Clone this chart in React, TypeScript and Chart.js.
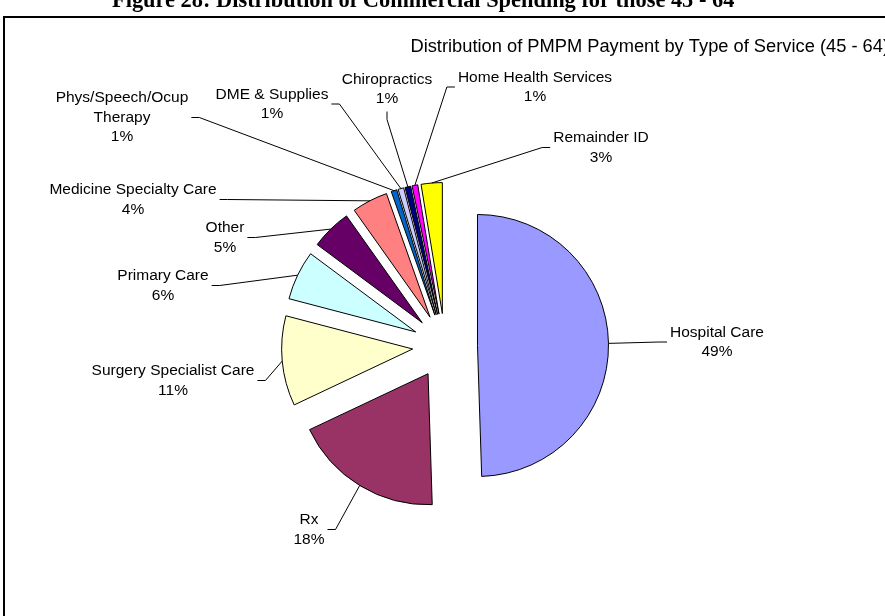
import React, { useEffect, useRef } from 'react';
import { Chart, registerables } from 'chart.js';

Chart.register(...registerables);

// ---- data ----
const categories = [
  'Hospital Care',
  'Rx',
  'Surgery Specialist Care',
  'Primary Care',
  'Other',
  'Medicine Specialty Care',
  'Phys/Speech/Ocup\nTherapy',
  'DME & Supplies',
  'Chiropractics',
  'Home Health Services',
  'Remainder ID',
];
const shares = [49.49, 18.49, 11.1, 6.1, 5.0, 4.42, 0.7, 0.7, 0.7, 0.7, 2.6];
const sliceColors = [
  '#9999FF', '#993366', '#FFFFCC', '#CCFFFF', '#660066', '#FF8080',
  '#0066CC', '#CCCCFF', '#000080', '#FF00FF', '#FFFF00',
];
const figureTitle = 'Figure 28: Distribution of Commercial Spending for those 45 - 64';
const chartTitle = 'Distribution of PMPM Payment by Type of Service (45 - 64)';

// ---- layout (label block centre relative to pie centre, and leader attach side) ----
const labelLayout: { dx: number; dy: number; side: 'left' | 'right' | 'bottom' }[] = [
  { dx: 272, dy: -4, side: 'left' },
  { dx: -136, dy: 183.5, side: 'right' },
  { dx: -272, dy: 34.5, side: 'right' },
  { dx: -282, dy: -60.5, side: 'right' },
  { dx: -220, dy: -108.5, side: 'right' },
  { dx: -312, dy: -146.5, side: 'right' },
  { dx: -323, dy: -228.5, side: 'right' },
  { dx: -173, dy: -242, side: 'right' },
  { dx: -58, dy: -257, side: 'bottom' },
  { dx: 90, dy: -259, side: 'left' },
  { dx: 156, dy: -198.5, side: 'left' },
];
const EXPLODE = 32.5;
const PIE_RADIUS = 131;
const LABEL_FONT = '15.5px "Liberation Sans", Arial, sans-serif';
const TITLE_FONT = '18.3px "Liberation Sans", Arial, sans-serif';
const FIG_FONT = 'bold 22.4px "Liberation Serif", "Times New Roman", serif';
const LINE_H = 19.5;

const explodePlugin = {
  id: 'explodePie',
  beforeDatasetDraw(chart: any, args: any) {
    const ctx = chart.ctx;
    args.meta.data.forEach((arc: any) => {
      const mid = (arc.startAngle + arc.endAngle) / 2;
      ctx.save();
      ctx.translate(Math.cos(mid) * EXPLODE, Math.sin(mid) * EXPLODE);
      arc.draw(ctx);
      ctx.restore();
    });
    return false;
  },
};

const decorPlugin = {
  id: 'decor',
  beforeDraw(chart: any) {
    const ctx = chart.ctx;
    ctx.save();
    ctx.fillStyle = '#fff';
    ctx.fillRect(0, 0, chart.width, chart.height);
    ctx.restore();
  },
  afterDraw(chart: any) {
    const ctx = chart.ctx;
    ctx.save();
    // outer frame
    ctx.strokeStyle = '#000';
    ctx.lineWidth = 2;
    ctx.strokeRect(4, 17, chart.width + 20, chart.height + 20);
    // figure title (clipped at the top)
    ctx.fillStyle = '#000';
    ctx.font = FIG_FONT;
    ctx.textAlign = 'left';
    ctx.textBaseline = 'alphabetic';
    ctx.fillText(figureTitle, 112, 7);
    // chart title
    ctx.font = TITLE_FONT;
    ctx.textAlign = 'right';
    ctx.textBaseline = 'middle';
    ctx.fillText(chartTitle, 889, 47);

    const meta = chart.getDatasetMeta(0);
    const total = shares.reduce((a, b) => a + b, 0);
    meta.data.forEach((arc: any, i: number) => {
      const lay = labelLayout[i];
      const cx = arc.x;
      const cy = arc.y;
      const mid = (arc.startAngle + arc.endAngle) / 2;
      const r = EXPLODE + arc.outerRadius;
      const px = cx + Math.cos(mid) * r;
      const py = cy + Math.sin(mid) * r;
      const lines = categories[i].split('\n');
      lines.push(Math.round((shares[i] / total) * 100) + '%');
      const lx = cx + lay.dx;
      const ly = cy + lay.dy;
      ctx.font = LABEL_FONT;
      const w = Math.max(...lines.map((s) => ctx.measureText(s).width));
      const h = lines.length * LINE_H;
      // leader line
      ctx.strokeStyle = '#000';
      ctx.lineWidth = 1;
      ctx.beginPath();
      if (lay.side === 'right') {
        const ex = lx + w / 2 + 3;
        ctx.moveTo(ex, ly);
        ctx.lineTo(ex + 8, ly);
      } else if (lay.side === 'left') {
        const ex = lx - w / 2 - 3;
        ctx.moveTo(ex, ly);
        ctx.lineTo(ex - 8, ly);
      } else {
        const ey = ly + h / 2 + 3;
        ctx.moveTo(lx, ey);
        ctx.lineTo(lx, ey + 8);
      }
      ctx.lineTo(px, py);
      ctx.stroke();
      // text
      ctx.fillStyle = '#000';
      ctx.textAlign = 'center';
      ctx.textBaseline = 'middle';
      lines.forEach((s, k) => {
        ctx.fillText(s, lx, ly + (k - (lines.length - 1) / 2) * LINE_H);
      });
    });
    ctx.restore();
  },
};

export default function App() {
  const ref = useRef<HTMLCanvasElement | null>(null);
  useEffect(() => {
    if (!ref.current) return;
    const chart = new Chart(ref.current, {
      type: 'pie',
      data: {
        labels: categories,
        datasets: [
          {
            data: shares,
            backgroundColor: sliceColors,
            borderColor: '#000',
            borderWidth: 1,
            borderJoinStyle: 'miter',
            radius: PIE_RADIUS,
          } as any,
        ],
      },
      options: {
        responsive: false,
        animation: false,
        devicePixelRatio: 1,
        layout: { padding: { left: 205, right: 200, top: 126, bottom: 50 } },
        plugins: {
          legend: { display: false },
          title: { display: false },
          tooltip: { enabled: false },
        },
        events: [],
      },
      plugins: [explodePlugin, decorPlugin],
    });
    return () => chart.destroy();
  }, []);
  return (
    <div style={{ position: 'absolute', left: 0, top: 0, width: 885, height: 616, overflow: 'hidden', background: '#fff' }}>
      <canvas ref={ref} width={885} height={616} style={{ display: 'block' }} />
    </div>
  );
}
